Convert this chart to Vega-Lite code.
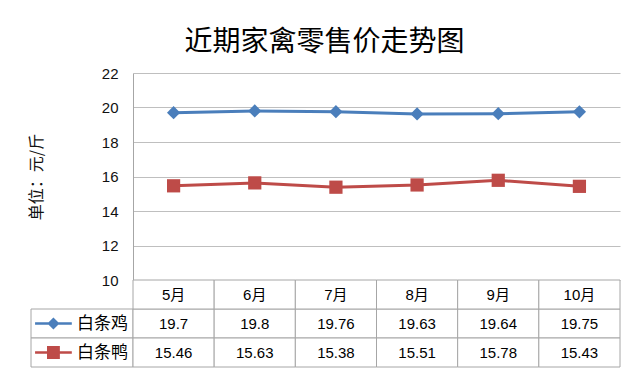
{
  "$schema": "https://vega.github.io/schema/vega-lite/v6.json",
  "background": "white",
  "padding": {"left": 28, "top": 29, "right": 20, "bottom": 10},
  "title": {"text": "近期家禽零售价走势图", "fontSize": 28, "font": "Noto Sans CJK SC", "fontWeight": "normal", "color": "#000000", "anchor": "middle", "offset": 9},
  "datasets": {
    "prices": [
      {"month": "5月", "series": "白条鸡", "price": 19.7},
      {"month": "6月", "series": "白条鸡", "price": 19.8},
      {"month": "7月", "series": "白条鸡", "price": 19.76},
      {"month": "8月", "series": "白条鸡", "price": 19.63},
      {"month": "9月", "series": "白条鸡", "price": 19.64},
      {"month": "10月", "series": "白条鸡", "price": 19.75},
      {"month": "5月", "series": "白条鸭", "price": 15.46},
      {"month": "6月", "series": "白条鸭", "price": 15.63},
      {"month": "7月", "series": "白条鸭", "price": 15.38},
      {"month": "8月", "series": "白条鸭", "price": 15.51},
      {"month": "9月", "series": "白条鸭", "price": 15.78},
      {"month": "10月", "series": "白条鸭", "price": 15.43}
    ]
  },
  "columns": 2,
  "spacing": 0,
  "bounds": "flush",
  "resolve": {"scale": {"shape": "independent"}},
  "concat": [
    {"data": {"values": []}, "mark": "point", "width": 102, "height": 207},
    {
      "data": {"name": "prices"},
      "width": 487,
      "height": 207,
      "encoding": {
        "x": {"field": "month", "type": "ordinal", "sort": ["5月", "6月", "7月", "8月", "9月", "10月"], "scale": {"type": "point", "padding": 0.5}, "axis": null},
        "y": {"field": "price", "type": "quantitative", "scale": {"domain": [10, 22], "nice": false, "zero": false},
          "axis": {"values": [10, 12, 14, 16, 18, 20, 22], "title": "单位：元/斤", "grid": true, "gridColor": "#BFBFBF", "domainColor": "#A6A6A6", "ticks": false, "labelPadding": 15, "labelFontSize": 15, "labelColor": "#111111", "labelFont": "Liberation Sans", "titleFontSize": 16, "titleFont": "Noto Sans CJK SC", "titleFontWeight": "normal", "titlePadding": 57, "titleColor": "#111111"}},
        "color": {"field": "series", "type": "nominal", "scale": {"domain": ["白条鸡", "白条鸭"], "range": ["#4A7EBB", "#BE4B48"]}, "legend": null}
      },
      "layer": [
        {"mark": {"type": "line", "strokeWidth": 3}},
        {"mark": {"type": "point", "filled": true, "opacity": 1, "size": 175},
          "encoding": {"shape": {"field": "series", "type": "nominal", "scale": {"domain": ["白条鸡", "白条鸭"], "range": ["diamond", "square"]}, "legend": null}}}
      ]
    },
    {
      "data": {"name": "prices"},
      "transform": [{"filter": "datum.month == '5月'"}],
      "width": 102,
      "height": 87,
      "encoding": {
        "y": {"field": "series", "type": "nominal", "scale": {"domain": ["月份", "白条鸡", "白条鸭"], "paddingInner": 0, "paddingOuter": 0}, "axis": null}
      },
      "layer": [
        {"mark": {"type": "rect", "fill": "white", "stroke": "#A6A6A6", "strokeWidth": 1},
          "encoding": {"x": {"datum": 0, "type": "quantitative", "scale": {"domain": [0, 1], "nice": false}, "axis": null}, "x2": {"datum": 1}}},
        {"mark": {"type": "point", "filled": true, "opacity": 1, "size": 1350},
          "encoding": {
            "x": {"datum": 0.22, "type": "quantitative"},
            "shape": {"field": "series", "type": "nominal", "scale": {"domain": ["白条鸡", "白条鸭"], "range": ["M-1,-0.07L1,-0.07L1,0.07L-1,0.07Z M0,-0.33L0.33,0L0,0.33L-0.33,0Z", "M-1,-0.07L1,-0.07L1,0.07L-1,0.07Z M-0.35,-0.35L0.35,-0.35L0.35,0.35L-0.35,0.35Z"]}, "legend": null},
            "color": {"field": "series", "type": "nominal", "scale": {"domain": ["白条鸡", "白条鸭"], "range": ["#4A7EBB", "#BE4B48"]}, "legend": null}
          }},
        {"mark": {"type": "text", "fontSize": 17, "font": "Noto Sans CJK SC", "color": "#000000"},
          "encoding": {"x": {"datum": 0.7, "type": "quantitative"}, "text": {"field": "series", "type": "nominal"}}}
      ]
    },
    {
      "data": {"name": "prices"},
      "width": 487,
      "height": 87,
      "encoding": {
        "x": {"field": "month", "type": "ordinal", "sort": ["5月", "6月", "7月", "8月", "9月", "10月"], "scale": {"type": "band", "paddingInner": 0, "paddingOuter": 0}, "axis": null}
      },
      "layer": [
        {"mark": {"type": "rect", "fill": "white", "stroke": "#A6A6A6", "strokeWidth": 1},
          "encoding": {"y": {"field": "series", "type": "nominal", "scale": {"domain": ["月份", "白条鸡", "白条鸭"], "paddingInner": 0, "paddingOuter": 0}, "axis": null}}},
        {"transform": [{"filter": "datum.series == '白条鸡'"}],
          "mark": {"type": "rect", "fill": "white", "stroke": "#A6A6A6", "strokeWidth": 1},
          "encoding": {"y": {"datum": "月份", "type": "nominal"}}},
        {"mark": {"type": "text", "fontSize": 15, "font": "Liberation Sans", "color": "#000000"},
          "encoding": {"y": {"field": "series", "type": "nominal"}, "text": {"field": "price", "type": "nominal"}}},
        {"transform": [{"filter": "datum.series == '白条鸡'"}],
          "mark": {"type": "text", "fontSize": 15, "font": "Liberation Sans, Noto Sans CJK SC", "color": "#000000"},
          "encoding": {"y": {"datum": "月份", "type": "nominal"}, "text": {"field": "month", "type": "nominal"}}}
      ]
    }
  ],
  "config": {"view": {"stroke": null}}
}
